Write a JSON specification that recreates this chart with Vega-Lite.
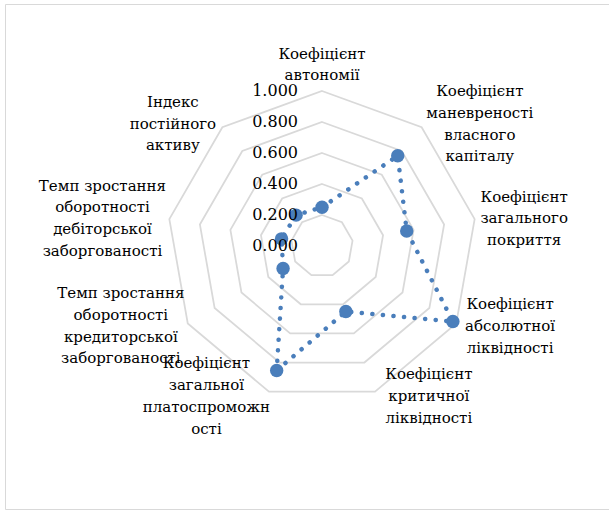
{
  "$schema": "https://vega.github.io/schema/vega-lite/v6.json",
  "width": 606,
  "height": 505,
  "autosize": {"type": "none"},
  "padding": {"left": 5, "top": 4, "right": 0, "bottom": 2},
  "background": "#ffffff",
  "config": {
    "view": {"stroke": "#d9d9d9", "strokeWidth": 1}
  },
  "datasets": {
    "cats": [
      {"i": 0, "name": "Коефіцієнт\nавтономії", "v": 0.25},
      {"i": 1, "name": "Коефіцієнт\nманевреності\nвласного\nкапіталу", "v": 0.76},
      {"i": 2, "name": "Коефіцієнт\nзагального\nпокриття", "v": 0.555},
      {"i": 3, "name": "Коефіцієнт\nабсолютної\nліквідності", "v": 0.975},
      {"i": 4, "name": "Коефіцієнт\nкритичної\nліквідності", "v": 0.45},
      {"i": 5, "name": "Коефіцієнт\nзагальної\nплатоспроможн\nості", "v": 0.855},
      {"i": 6, "name": "Темп зростання\nоборотності\nкредиторської\nзаборгованості", "v": 0.29},
      {"i": 7, "name": "Темп зростання\nоборотності\nдебіторської\nзаборгованості", "v": 0.265},
      {"i": 8, "name": "Індекс\nпостійного\nактиву", "v": 0.26}
    ],
    "rings": [
      {"r": 0.2, "i": 0}, {"r": 0.2, "i": 1}, {"r": 0.2, "i": 2}, {"r": 0.2, "i": 3}, {"r": 0.2, "i": 4}, {"r": 0.2, "i": 5}, {"r": 0.2, "i": 6}, {"r": 0.2, "i": 7}, {"r": 0.2, "i": 8},
      {"r": 0.4, "i": 0}, {"r": 0.4, "i": 1}, {"r": 0.4, "i": 2}, {"r": 0.4, "i": 3}, {"r": 0.4, "i": 4}, {"r": 0.4, "i": 5}, {"r": 0.4, "i": 6}, {"r": 0.4, "i": 7}, {"r": 0.4, "i": 8},
      {"r": 0.6, "i": 0}, {"r": 0.6, "i": 1}, {"r": 0.6, "i": 2}, {"r": 0.6, "i": 3}, {"r": 0.6, "i": 4}, {"r": 0.6, "i": 5}, {"r": 0.6, "i": 6}, {"r": 0.6, "i": 7}, {"r": 0.6, "i": 8},
      {"r": 0.8, "i": 0}, {"r": 0.8, "i": 1}, {"r": 0.8, "i": 2}, {"r": 0.8, "i": 3}, {"r": 0.8, "i": 4}, {"r": 0.8, "i": 5}, {"r": 0.8, "i": 6}, {"r": 0.8, "i": 7}, {"r": 0.8, "i": 8},
      {"r": 1.0, "i": 0}, {"r": 1.0, "i": 1}, {"r": 1.0, "i": 2}, {"r": 1.0, "i": 3}, {"r": 1.0, "i": 4}, {"r": 1.0, "i": 5}, {"r": 1.0, "i": 6}, {"r": 1.0, "i": 7}, {"r": 1.0, "i": 8}
    ],
    "ticks": [
      {"t": 0.0}, {"t": 0.2}, {"t": 0.4}, {"t": 0.6}, {"t": 0.8}, {"t": 1.0}
    ]
  },
  "layer": [
    {
      "data": {"name": "rings"},
      "transform": [
        {"calculate": "datum.r * sin(datum.i * 2 * PI / 9)", "as": "x"},
        {"calculate": "datum.r * cos(datum.i * 2 * PI / 9)", "as": "y"}
      ],
      "mark": {"type": "line", "interpolate": "linear-closed", "color": "#d9d9d9", "strokeWidth": 1.75},
      "encoding": {
        "x": {"field": "x", "type": "quantitative", "scale": {"domain": [-2.04516, 1.86452], "nice": false, "zero": false}, "axis": null},
        "y": {"field": "y", "type": "quantitative", "scale": {"domain": [-1.69677, 1.56129], "nice": false, "zero": false}, "axis": null},
        "detail": {"field": "r", "type": "nominal"},
        "order": {"field": "i", "type": "quantitative"}
      }
    },
    {
      "data": {"name": "cats"},
      "transform": [
        {"calculate": "datum.v * sin(datum.i * 2 * PI / 9)", "as": "x"},
        {"calculate": "datum.v * cos(datum.i * 2 * PI / 9)", "as": "y"}
      ],
      "mark": {"type": "line", "interpolate": "linear-closed", "color": "#4a7ebb", "strokeWidth": 4.5, "strokeCap": "round", "strokeDash": [0.1, 10.5]},
      "encoding": {
        "x": {"field": "x", "type": "quantitative"},
        "y": {"field": "y", "type": "quantitative"},
        "order": {"field": "i", "type": "quantitative"}
      }
    },
    {
      "data": {"name": "cats"},
      "transform": [
        {"calculate": "datum.v * sin(datum.i * 2 * PI / 9)", "as": "x"},
        {"calculate": "datum.v * cos(datum.i * 2 * PI / 9)", "as": "y"}
      ],
      "mark": {"type": "point", "filled": true, "shape": "circle", "size": 180, "color": "#4a7ebb", "opacity": 1},
      "encoding": {
        "x": {"field": "x", "type": "quantitative"},
        "y": {"field": "y", "type": "quantitative"}
      }
    },
    {
      "data": {"name": "cats"},
      "transform": [
        {"calculate": "sin(datum.i * 2 * PI / 9)", "as": "s"},
        {"calculate": "cos(datum.i * 2 * PI / 9)", "as": "c"},
        {"calculate": "split(datum.name, '\\n')", "as": "ln"},
        {"calculate": "max(length(datum.ln[0]), length(datum.ln[1] || ''), length(datum.ln[2] || ''), length(datum.ln[3] || ''))", "as": "n"},
        {"calculate": "datum.s + (abs(datum.s) < 0.1 ? 0 : (datum.s > 0 ? 1 : -1) * (datum.n * 4.35 + 6) / 155)", "as": "lx"},
        {"calculate": "datum.c * 1.03 + (abs(datum.s) < 0.1 ? length(datum.ln) * 21.7 / 2 / 155 : 0) + (length(datum.ln) - 1) / 2 * 21.7 / 155", "as": "ly"}
      ],
      "mark": {"type": "text", "align": "center", "baseline": "middle", "lineBreak": "\n", "lineHeight": 21.7, "font": "DejaVu Serif", "fontSize": 15, "color": "#000000"},
      "encoding": {
        "x": {"field": "lx", "type": "quantitative"},
        "y": {"field": "ly", "type": "quantitative"},
        "text": {"field": "name", "type": "nominal"}
      }
    },
    {
      "data": {"name": "ticks"},
      "mark": {"type": "text", "align": "right", "baseline": "middle", "dx": -24, "font": "DejaVu Serif", "fontSize": 16, "color": "#000000"},
      "encoding": {
        "x": {"datum": 0, "type": "quantitative"},
        "y": {"field": "t", "type": "quantitative"},
        "text": {"field": "t", "type": "quantitative", "format": ".3f"}
      }
    }
  ]
}
